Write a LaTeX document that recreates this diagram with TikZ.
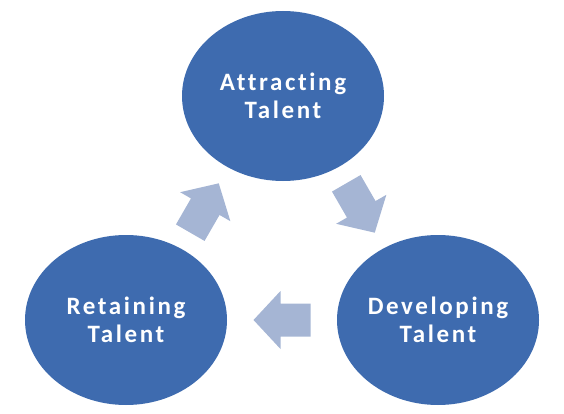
\documentclass[tikz,border=0pt]{standalone}
\usepackage{fontspec}
\setmainfont{Carlito}
\newfontfamily\labelfont[LetterSpace=10.5,Ligatures=NoCommon]{Carlito Bold}
\usetikzlibrary{calc,shapes.geometric}
\definecolor{circblue}{RGB}{62,107,175}
\definecolor{arrowblue}{RGB}{165,181,212}
\tikzset{
  stage/.style={ellipse, minimum width=202pt, minimum height=170pt, inner sep=0pt,
    fill=circblue, text=white, align=center,
    font=\labelfont\fontsize{25}{28.5}\selectfont},
  cyclearrow/.pic={\fill[arrowblue] (28.5,0) -- (1.5,-29) -- (1.5,-16.5) -- (-28.5,-16.5)
    -- (-28.5,16.5) -- (1.5,16.5) -- (1.5,29) -- cycle;}
}
\begin{document}
\begin{tikzpicture}[x=1pt,y=-1pt]
\useasboundingbox (0,0) rectangle (564,414);
\node[stage] (att) at (283,96) {Attracting\\Talent};
\node[stage] (dev) at (438,320) {Developing\\Talent};
\node[stage] (ret) at (126,320) {Retaining\\Talent};
\pic[rotate=60] at ($(ret)!0.5!(att)$) {cyclearrow};
\pic[rotate=-60] at ($(att)!0.5!(dev)$) {cyclearrow};
\pic[rotate=180] at ($(dev)!0.5!(ret)$) {cyclearrow};
\end{tikzpicture}
\end{document}
